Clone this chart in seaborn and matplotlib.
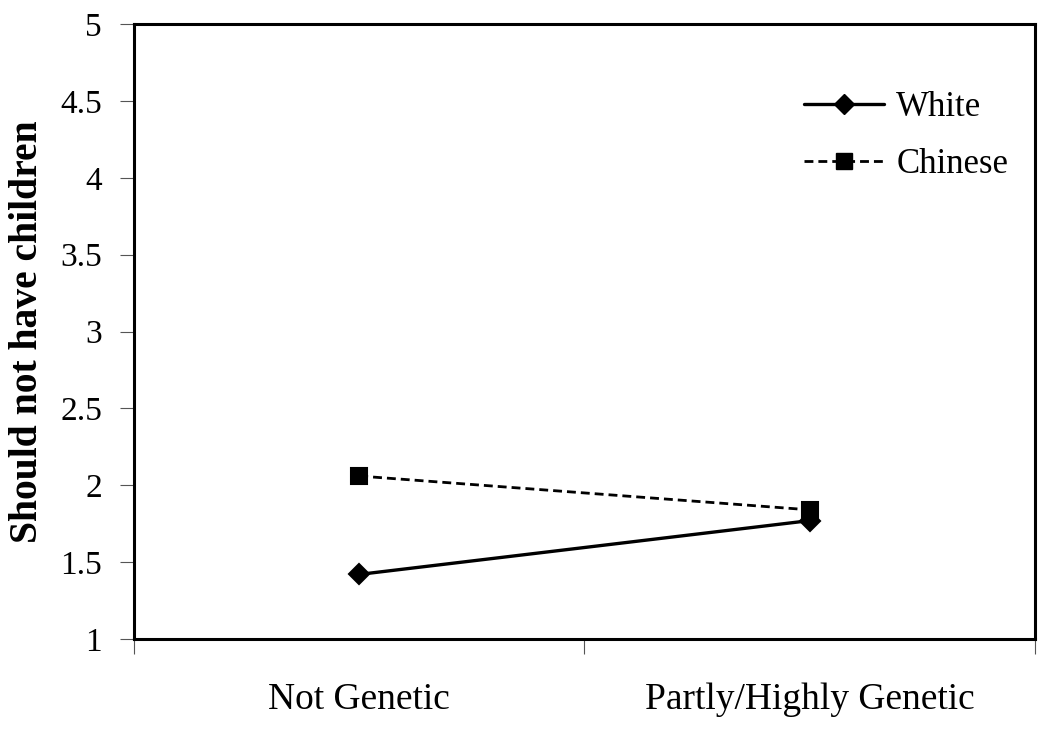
import matplotlib

matplotlib.use("Agg")
import matplotlib.pyplot as plt
import numpy as np
import pandas as pd
import seaborn as sns
from matplotlib.lines import Line2D
from matplotlib.ticker import FixedLocator

# values
categories = ["Not Genetic", "Partly/Highly Genetic"]
groups = ["White", "Chinese"]
white_values = [1.42, 1.77]
chinese_values = [2.06, 1.84]
y_ticks = [1, 1.5, 2, 2.5, 3, 3.5, 4, 4.5, 5]

frame = pd.DataFrame(
    {
        "Attribution": categories * 2,
        "Group": ["White"] * 2 + ["Chinese"] * 2,
        "Score": white_values + chinese_values,
    }
)

sns.set_theme(style="white")
plt.rcParams["font.family"] = ["Liberation Serif", "DejaVu Serif"]
plt.rcParams["text.color"] = "black"
plt.rcParams["xtick.labelcolor"] = "black"
plt.rcParams["ytick.labelcolor"] = "black"
plt.rcParams["axes.labelcolor"] = "black"

DASH = (0, (3.2, 1.8))

fig, ax = plt.subplots(figsize=(10.5, 7.3), dpi=100)
fig.subplots_adjust(left=0.1276, right=0.9857, top=0.967, bottom=0.1247)

sns.pointplot(
    data=frame,
    x="Attribution",
    y="Score",
    hue="Group",
    hue_order=groups,
    order=categories,
    palette=["black", "black"],
    markers=["D", "s"],
    linestyles=["-", DASH],
    errorbar=None,
    markersize=11,
    linewidth=2,
    legend=False,
    ax=ax,
)

for line in ax.get_lines():
    if line.get_marker() == "D":
        line.set_markersize(10)
        line.set_linewidth(2.4)
    elif line.get_marker() == "s":
        line.set_markersize(11.5)
        line.set_linewidth(2.0)

ax.set_xlim(-0.5, len(categories) - 0.5)
ax.set_ylim(y_ticks[0], y_ticks[-1])
ax.set_yticks(y_ticks)
ax.set_yticklabels([f"{v:g}" for v in y_ticks], fontsize=24)
ax.set_xticks(range(len(categories)))
ax.set_xticklabels(categories, fontsize=27)
ax.xaxis.set_minor_locator(FixedLocator(np.arange(-0.5, len(categories), 1.0)))
ax.tick_params(axis="x", which="major", length=0, pad=31)
ax.tick_params(axis="x", which="minor", bottom=True, length=11, width=0.8,
               color="#555555", direction="out")
ax.tick_params(axis="y", which="major", left=True, length=10, width=0.8,
               color="#555555", pad=13)
ax.set_xlabel("")
ax.set_ylabel("Should not have children", fontsize=28.5, fontweight="bold", labelpad=10)

for spine in ax.spines.values():
    spine.set_visible(True)
    spine.set_color("black")
    spine.set_linewidth(2.2)

handles = [
    Line2D([], [], color="black", linestyle="-", linewidth=2.4, marker="D", markersize=10),
    Line2D([], [], color="black", linestyle=DASH, linewidth=2.0, marker="s", markersize=11.5),
]
ax.legend(
    handles,
    groups,
    loc="upper right",
    bbox_to_anchor=(1.005, 0.942),
    frameon=False,
    fontsize=25,
    handlelength=2.3,
    handletextpad=0.35,
    labelspacing=0.7,
)

fig.savefig("out.png", dpi=100)
plt.close(fig)
